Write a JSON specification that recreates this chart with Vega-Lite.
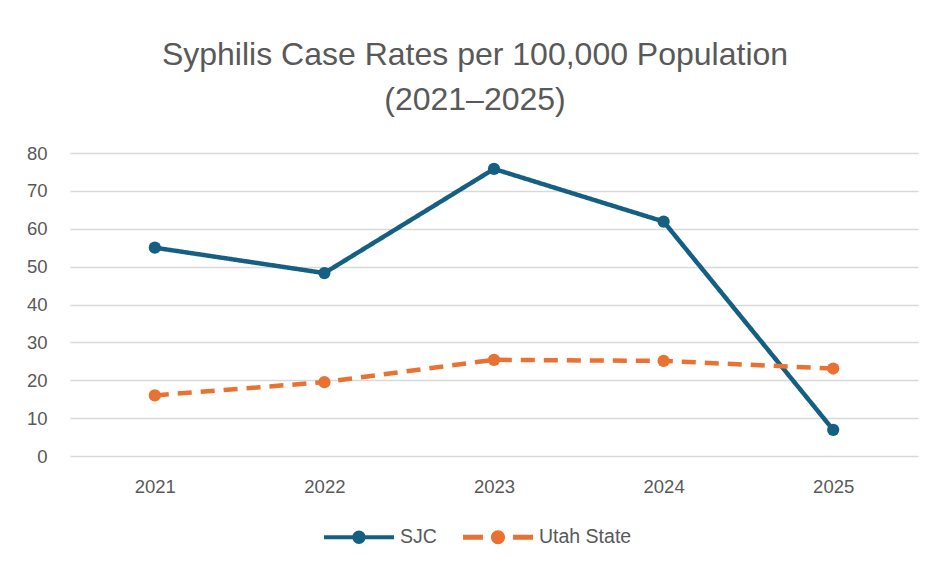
{
  "$schema": "https://vega.github.io/schema/vega-lite/v6.json",
  "width": 848,
  "height": 303,
  "autosize": {"type": "none"},
  "padding": {"left": 70, "top": 153, "right": 17, "bottom": 111},
  "background": "white",
  "title": {
    "text": ["Syphilis Case Rates per 100,000 Population", "(2021–2025)"],
    "font": "Liberation Sans, sans-serif",
    "fontSize": 32,
    "fontWeight": "normal",
    "color": "#595959",
    "anchor": "middle",
    "dx": -19,
    "offset": 27,
    "lineHeight": 45
  },
  "data": {
    "values": [
      {"year": "2021", "series": "SJC", "rate": 55},
      {"year": "2022", "series": "SJC", "rate": 48.3},
      {"year": "2023", "series": "SJC", "rate": 75.8},
      {"year": "2024", "series": "SJC", "rate": 61.9},
      {"year": "2025", "series": "SJC", "rate": 6.9},
      {"year": "2021", "series": "Utah State", "rate": 16},
      {"year": "2022", "series": "Utah State", "rate": 19.5},
      {"year": "2023", "series": "Utah State", "rate": 25.4},
      {"year": "2024", "series": "Utah State", "rate": 25.1},
      {"year": "2025", "series": "Utah State", "rate": 23.1}
    ]
  },
  "config": {
    "view": {"stroke": null},
    "axis": {
      "labelFont": "Liberation Sans, sans-serif",
      "labelFontSize": 18.5,
      "labelColor": "#595959",
      "title": null,
      "ticks": false,
      "domain": false
    },
    "legend": {
      "labelFont": "Liberation Sans, sans-serif",
      "labelFontSize": 19.5,
      "labelColor": "#595959"
    }
  },
  "encoding": {
    "x": {
      "field": "year",
      "type": "ordinal",
      "scale": {"type": "point", "padding": 0.5},
      "axis": {"labelAngle": 0, "labelPadding": 21, "grid": false}
    },
    "y": {
      "field": "rate",
      "type": "quantitative",
      "scale": {"domain": [0, 80], "nice": false},
      "axis": {
        "values": [0, 10, 20, 30, 40, 50, 60, 70, 80],
        "grid": true,
        "gridColor": "#d9d9d9",
        "gridWidth": 1.5,
        "labelPadding": 23
      }
    },
    "color": {
      "field": "series",
      "type": "nominal",
      "scale": {"domain": ["SJC", "Utah State"], "range": ["#156082", "#E97132"]},
      "legend": {
        "title": null,
        "orient": "none",
        "direction": "horizontal",
        "legendX": 254,
        "legendY": 349,
        "padding": 0,
        "columnPadding": 26,
        "labelOffset": 6,
        "symbolSize": 4900,
        "symbolStrokeWidth": 0,
        "encode": {
          "symbols": {
            "update": {
              "shape": {"signal": "datum.value === 'SJC' ? 'M-1,-0.06H1V0.06H-1Z M0.19,0A0.19,0.19,0,1,1,-0.19,0A0.19,0.19,0,1,1,0.19,0Z' : 'M-1,-0.07H-0.43V0.07H-1Z M0.43,-0.07H1V0.07H0.43Z M0.2,0A0.2,0.2,0,1,1,-0.2,0A0.2,0.2,0,1,1,0.2,0Z'"},
              "fill": {"scale": "color", "field": "value"},
              "fillOpacity": {"value": 1},
              "strokeWidth": {"value": 0}
            }
          }
        }
      }
    }
  },
  "layer": [
    {
      "mark": {"type": "line", "strokeWidth": 4.5},
      "encoding": {
        "strokeDash": {
          "field": "series",
          "type": "nominal",
          "scale": {"domain": ["SJC", "Utah State"], "range": [[1, 0], [14, 9]]},
          "legend": null
        }
      }
    },
    {
      "mark": {"type": "point", "filled": true, "opacity": 1, "size": 150, "shape": "circle"}
    }
  ]
}
